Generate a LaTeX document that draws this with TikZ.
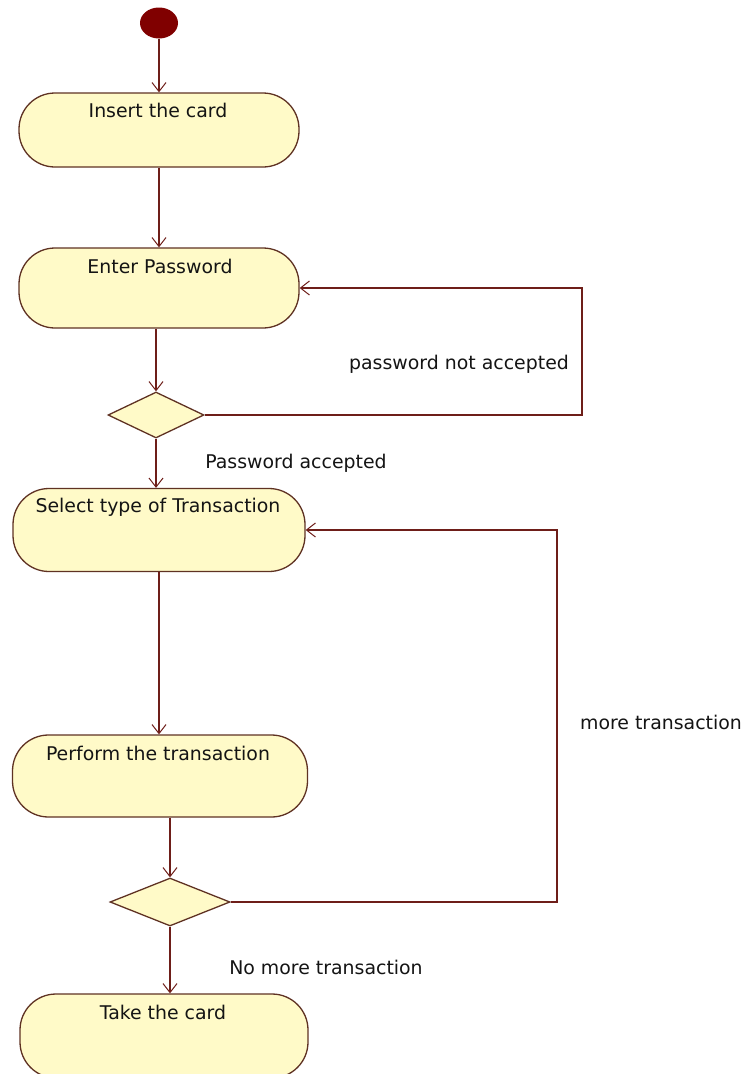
\documentclass[tikz,border=0pt]{standalone}
\usepackage{fontspec}
\setmainfont{DejaVu Sans}
\usetikzlibrary{arrows.meta,shapes.geometric,calc}
\definecolor{actfill}{RGB}{255,250,200}
\definecolor{actline}{RGB}{95,50,35}
\definecolor{flowline}{RGB}{110,30,25}
\definecolor{startred}{RGB}{128,0,0}
\definecolor{txt}{RGB}{20,20,20}
\tikzset{
  activity/.style={draw=actline, fill=actfill, line width=1.3pt, rectangle, rounded corners=36pt, inner sep=0pt},
  actlabel/.style={text=txt, font=\fontsize{18.9}{22}\selectfont, inner sep=0pt},
  decision/.style={draw=actline, fill=actfill, line width=1.3pt, diamond, inner sep=0pt},
  flow/.style={draw=flowline, line width=1.3pt, line join=miter, -{Straight Barb[length=9pt,width=14pt,line width=1pt]}},
  guard/.style={text=txt, font=\fontsize{18.9}{22}\selectfont, inner sep=0pt},
}
\begin{document}
\begin{tikzpicture}[x=1pt,y=-1pt]
\useasboundingbox (0,0) rectangle (743,1074);
\node[ellipse, fill=startred, minimum width=38pt, minimum height=31pt, inner sep=0pt] (start) at (159,23) {};
\node[activity, minimum width=280pt, minimum height=74pt] (insert) at (159,130) {};
\node[actlabel] (insertT) at (158,110) {Insert the card};
\node[activity, minimum width=280pt, minimum height=80pt] (enter) at (159,288) {};
\node[actlabel] (enterT) at (160,266) {Enter Password};
\node[decision, minimum width=96pt, minimum height=46pt] (dec1) at (156,415) {};
\node[activity, minimum width=292pt, minimum height=83pt] (select) at (159,530) {};
\node[actlabel] (selectT) at (158,507) {Select type of Transaction};
\node[activity, minimum width=295pt, minimum height=82pt] (perform) at (160,776) {};
\node[actlabel] (performT) at (158,753) {Perform the transaction};
\node[decision, minimum width=120pt, minimum height=48pt] (dec2) at (170,902) {};
\node[activity, minimum width=288pt, minimum height=84pt] (take) at (164,1036) {};
\node[actlabel] (takeT) at (163,1012) {Take the card};
\coordinate (r1) at (582,0);
\coordinate (r2) at (557,0);
\draw[flow] (start.south -| insert.north) -- (insert.north);
\draw[flow] (insert.south) -- (insert.south |- enter.north);
\draw[flow] (dec1.north |- enter.south) -- (dec1.north);
\draw[flow] (dec1.south) -- (dec1.south |- select.north);
\draw[flow] (dec1.east) -- (dec1.east -| r1) -- (enter.east -| r1) -- (enter.east);
\draw[flow] (select.south) -- (select.south |- perform.north);
\draw[flow] (dec2.north |- perform.south) -- (dec2.north);
\draw[flow] (dec2.south) -- (dec2.south |- take.north);
\draw[flow] (dec2.east) -- (dec2.east -| r2) -- (select.east -| r2) -- (select.east);
\node[guard] (g1) at (459,364) {password not accepted};
\node[guard] (g2) at (296,463) {Password accepted};
\node[guard] (g3) at (661,722) {more transaction};
\node[guard] (g4) at (326,967) {No more transaction};
\end{tikzpicture}
\end{document}
